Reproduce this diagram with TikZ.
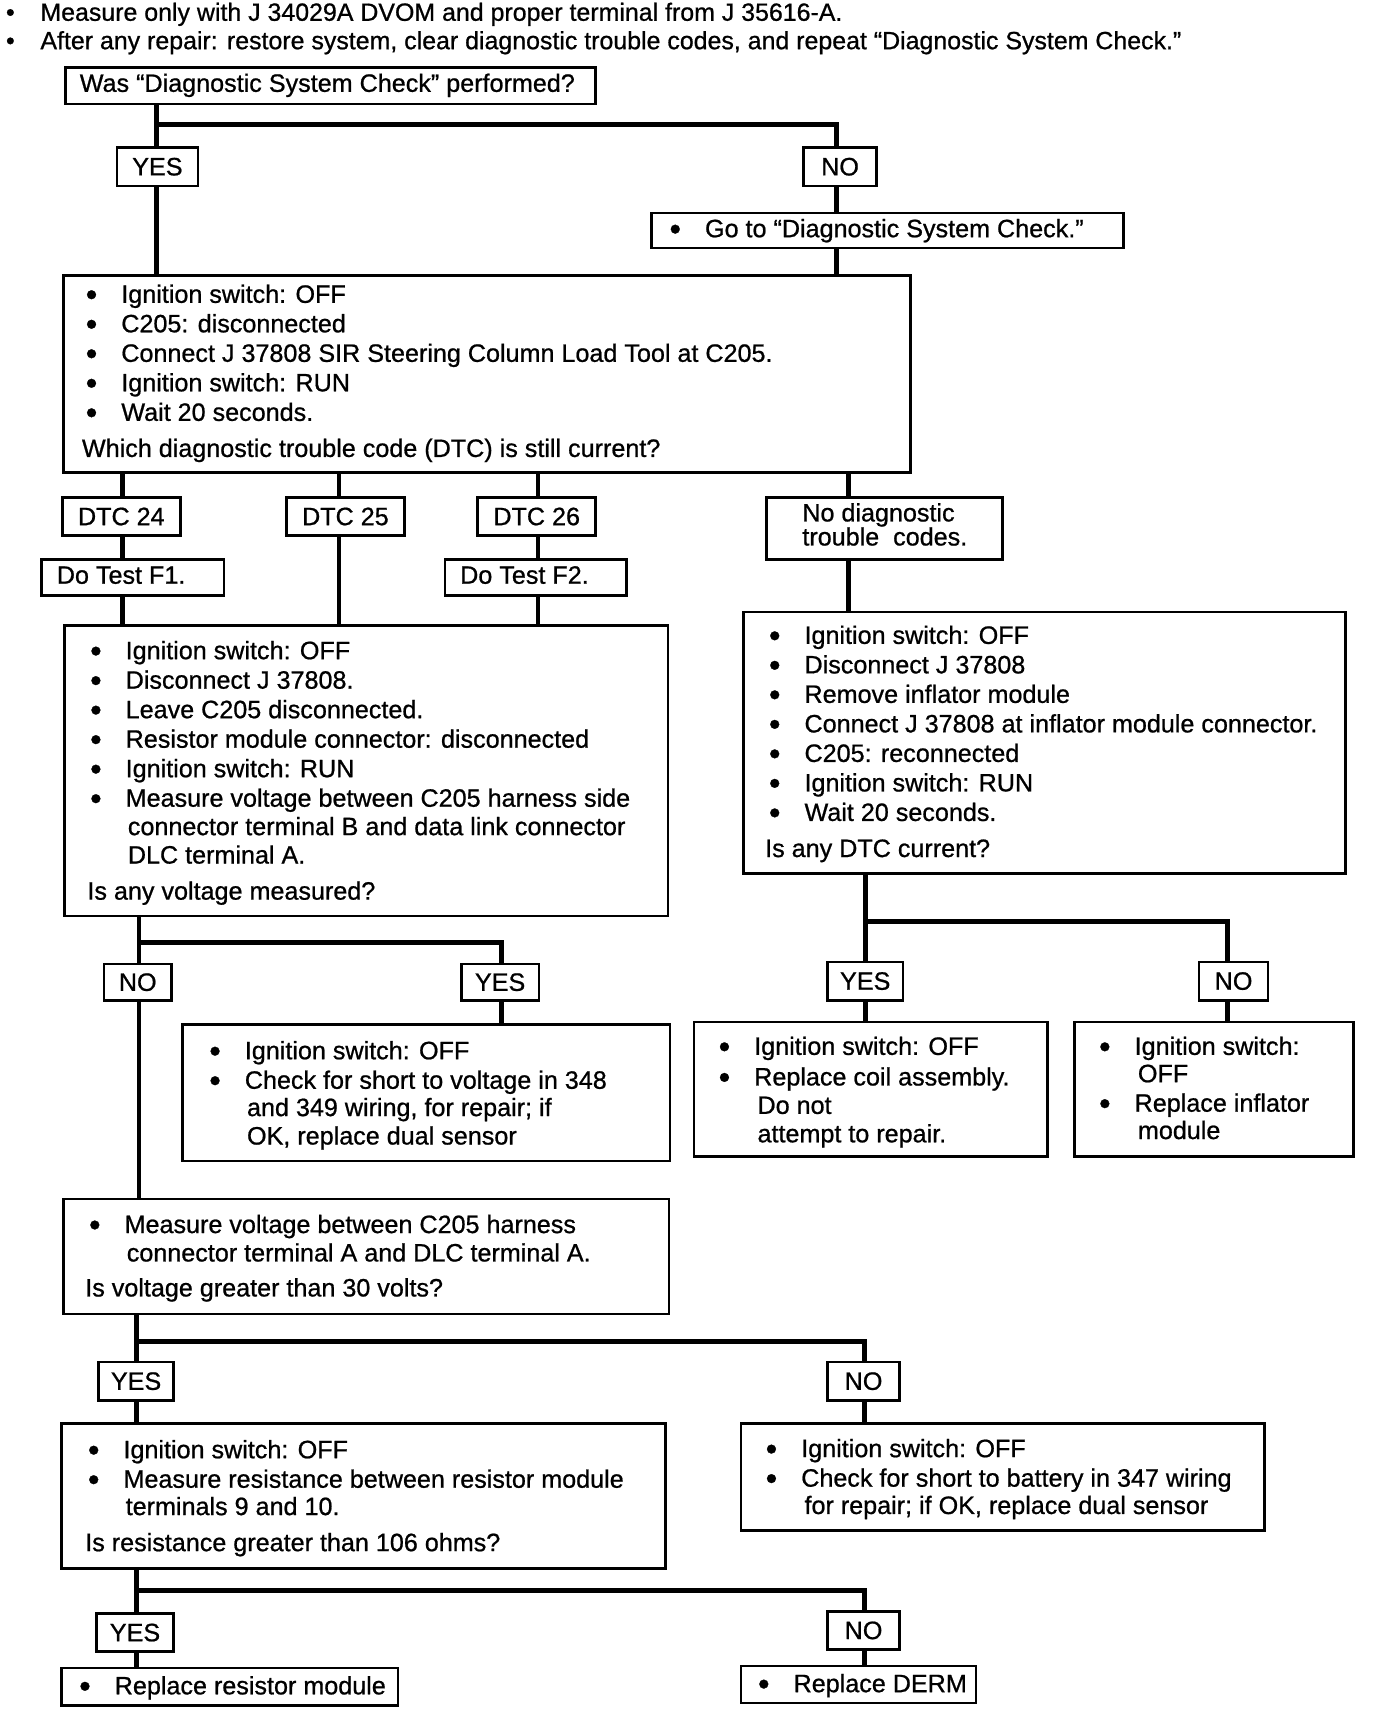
\documentclass[tikz,border=0pt]{standalone}
\usepackage{fontspec}
\setmainfont{Liberation Sans}[FakeBold=0.8]
\tikzset{
  box/.style={draw, line width=1.2pt, inner sep=0pt, outer sep=0pt, anchor=north west, font=\fontsize{11.5}{13}\selectfont},
  tx/.style={anchor=base west, inner sep=0pt, outer sep=0pt, font=\fontsize{11.5}{13}\selectfont},
  hx/.style={anchor=base west, inner sep=0pt, outer sep=0pt, font=\fontsize{11.4}{12}\selectfont},
  wire/.style={line width=2.1pt},
}
\newcommand\bx[6]{\node[box, minimum width={(#4-#2)*0.5pt}, minimum height={(#5-#3)*0.5pt}] (#1) at (#2,#3) {#6};}
\newcommand\tline[4]{\node[tx] (#1) at (#2,#3+7) {#4};}
\newcommand\mybul{\makebox[16.25pt][l]{\smash{\raisebox{-1.3pt}{\fontsize{15}{15}\selectfont\textbullet}}}}
\newcommand\hbul{\makebox[16.25pt][l]{\hspace{0.5pt}\textbullet}}
\newcommand\bline[4]{\node[tx] (#1) at (#2-4.5,#3+7) {\mybul#4};}
\newcommand\headline[4]{\node[hx] (#1) at (#2-4.5,#3+7) {\hbul#4};}
\begin{document}
\begin{tikzpicture}[x=0.5pt,y=-0.5pt]
\useasboundingbox (0,0) rectangle (1259,1568);
% header
\headline{h1}{9}{12}{Measure only with J 34029A DVOM and proper terminal from J 35616-A.}
\headline{h2}{9}{38}{After any repair: restore system, clear diagnostic trouble codes, and repeat “Diagnostic System Check.”}
% boxes
\bx{q0}{60}{62}{545}{95}{}
\tline{q0t}{73}{77}{Was “Diagnostic System Check” performed?}
\bx{yes0}{107}{135}{181}{170}{YES}
\bx{no0}{735}{135}{802}{170}{NO}
\bx{goto}{596}{195}{1028}{227}{}
\bline{gotot}{617}{210}{Go to “Diagnostic System Check.”}
\bx{b1}{58}{252}{833}{432}{}
\bline{b1a}{83}{270}{Ignition switch: OFF}
\bline{b1b}{83}{297}{C205: disconnected}
\bline{b1c}{83}{324}{Connect J 37808 SIR Steering Column Load Tool at C205.}
\bline{b1d}{83}{351}{Ignition switch: RUN}
\bline{b1e}{83}{378}{Wait 20 seconds.}
\tline{b1q}{75}{411}{Which diagnostic trouble code (DTC) is still current?}
\bx{d24}{57}{455}{165}{490}{DTC 24}
\bx{d25}{262}{455}{370}{490}{DTC 25}
\bx{d26}{437}{455}{545}{490}{DTC 26}
\bx{nod}{701}{455}{917}{512}{}
\tline{noda}{734}{470}{No diagnostic}
\tline{nodb}{734}{492}{trouble~ codes.}
\bx{f1}{38}{512}{205}{545}{}
\tline{f1t}{52}{527}{Do Test F1.}
\bx{f2}{407}{512}{573}{545}{}
\tline{f2t}{421}{527}{Do Test F2.}
\bx{b2}{59}{572}{611}{838}{}
\bline{b2a}{87}{596}{Ignition switch: OFF}
\bline{b2b}{87}{623}{Disconnect J 37808.}
\bline{b2c}{87}{650}{Leave C205 disconnected.}
\bline{b2d}{87}{677}{Resistor module connector: disconnected}
\bline{b2e}{87}{704}{Ignition switch: RUN}
\bline{b2f}{87}{731}{Measure voltage between C205 harness side}
\tline{b2g}{117}{757}{connector terminal B and data link connector}
\tline{b2h}{117}{783}{DLC terminal A.}
\tline{b2q}{80}{816}{Is any voltage measured?}
\bx{b2r}{680}{560}{1231}{799}{}
\bline{b2ra}{708}{582}{Ignition switch: OFF}
\bline{b2rb}{708}{609}{Disconnect J 37808}
\bline{b2rc}{708}{636}{Remove inflator module}
\bline{b2rd}{708}{663}{Connect J 37808 at inflator module connector.}
\bline{b2re}{708}{690}{C205: reconnected}
\bline{b2rf}{708}{717}{Ignition switch: RUN}
\bline{b2rg}{708}{744}{Wait 20 seconds.}
\tline{b2rq}{700}{777}{Is any DTC current?}
\bx{yr}{757}{880}{826}{915}{YES}
\bx{nr}{1097}{880}{1160}{915}{NO}
\bx{ryb}{635}{935}{958}{1058}{}
\bline{ryba}{662}{958}{Ignition switch: OFF}
\bline{rybb}{662}{986}{Replace coil assembly.}
\tline{rybc}{693}{1012}{Do not}
\tline{rybd}{693}{1038}{attempt to repair.}
\bx{rnb}{983}{935}{1238}{1058}{}
\bline{rnba}{1010}{958}{Ignition switch:}
\tline{rnbb}{1041}{983}{OFF}
\bline{rnbc}{1010}{1010}{Replace inflator}
\tline{rnbd}{1041}{1035}{module}
\bx{nl}{95}{882}{157}{915}{NO}
\bx{yl}{422}{882}{493}{915}{YES}
\bx{lyb}{167}{937}{613}{1062}{}
\bline{lyba}{196}{962}{Ignition switch: OFF}
\bline{lybb}{196}{989}{Check for short to voltage in 348}
\tline{lybc}{226}{1014}{and 349 wiring, for repair; if}
\tline{lybd}{226}{1040}{OK, replace dual sensor}
\bx{b3}{58}{1097}{612}{1202}{}
\bline{b3a}{86}{1121}{Measure voltage between C205 harness}
\tline{b3b}{116}{1147}{connector terminal A and DLC terminal A.}
\tline{b3q}{78}{1179}{Is voltage greater than 30 volts?}
\bx{y3}{90}{1246}{159}{1281}{YES}
\bx{n3}{757}{1246}{823}{1281}{NO}
\bx{b4}{56}{1302}{609}{1435}{}
\bline{b4a}{85}{1327}{Ignition switch: OFF}
\bline{b4b}{85}{1354}{Measure resistance between resistor module}
\tline{b4c}{115}{1379}{terminals 9 and 10.}
\tline{b4q}{78}{1412}{Is resistance greater than 106 ohms?}
\bx{n3b}{678}{1302}{1157}{1400}{}
\bline{n3ba}{705}{1326}{Ignition switch: OFF}
\bline{n3bb}{705}{1353}{Check for short to battery in 347 wiring}
\tline{n3bc}{736}{1378}{for repair; if OK, replace dual sensor}
\bx{y4}{88}{1476}{159}{1511}{YES}
\bx{n4}{757}{1474}{823}{1509}{NO}
\bx{rr}{56}{1526}{364}{1560}{}
\bline{rrt}{77}{1543}{Replace resistor module}
\bx{rd}{678}{1524}{893}{1558}{}
\bline{rdt}{698}{1541}{Replace DERM}
% junction coordinates
\coordinate (x0) at (143,0);
\coordinate (x1) at (765,0);
\coordinate (j0) at (143,114);
\coordinate (xd24) at (112,0);
\coordinate (xd25) at (310,0);
\coordinate (xd26) at (492,0);
\coordinate (xnd) at (776,0);
\coordinate (jr) at (792,843);
\coordinate (xnr) at (1123,0);
\coordinate (jl) at (127,862);
\coordinate (xyl) at (459,0);
\coordinate (j3) at (125,1227);
\coordinate (xn3) at (791,0);
\coordinate (j4) at (125,1455);
% connectors
\draw[wire] (q0.south -| x0) -- (yes0.north -| x0);
\draw[wire] (j0) -| (no0.north -| x1);
\draw[wire] (yes0.south -| x0) -- (b1.north -| x0);
\draw[wire] (no0.south -| x1) -- (goto.north -| x1);
\draw[wire] (goto.south -| x1) -- (b1.north -| x1);
\draw[wire] (b1.south -| xd24) -- (d24.north -| xd24);
\draw[wire] (d24.south -| xd24) -- (f1.north -| xd24);
\draw[wire] (f1.south -| xd24) -- (b2.north -| xd24);
\draw[wire] (b1.south -| xd25) -- (d25.north -| xd25);
\draw[wire] (d25.south -| xd25) -- (b2.north -| xd25);
\draw[wire] (b1.south -| xd26) -- (d26.north -| xd26);
\draw[wire] (d26.south -| xd26) -- (f2.north -| xd26);
\draw[wire] (f2.south -| xd26) -- (b2.north -| xd26);
\draw[wire] (b1.south -| xnd) -- (nod.north -| xnd);
\draw[wire] (nod.south -| xnd) -- (b2r.north -| xnd);
\draw[wire] (b2r.south -| jr) -- (yr.north -| jr);
\draw[wire] (jr) -| (nr.north -| xnr);
\draw[wire] (yr.south -| jr) -- (ryb.north -| jr);
\draw[wire] (nr.south -| xnr) -- (rnb.north -| xnr);
\draw[wire] (b2.south -| jl) -- (nl.north -| jl);
\draw[wire] (jl) -| (yl.north -| xyl);
\draw[wire] (yl.south -| xyl) -- (lyb.north -| xyl);
\draw[wire] (nl.south -| jl) -- (b3.north -| jl);
\draw[wire] (b3.south -| j3) -- (y3.north -| j3);
\draw[wire] (j3) -| (n3.north -| xn3);
\draw[wire] (y3.south -| j3) -- (b4.north -| j3);
\draw[wire] (n3.south -| xn3) -- (n3b.north -| xn3);
\draw[wire] (b4.south -| j4) -- (y4.north -| j4);
\draw[wire] (j4) -| (n4.north -| xn3);
\draw[wire] (y4.south -| j4) -- (rr.north -| j4);
\draw[wire] (n4.south -| xn3) -- (rd.north -| xn3);
\end{tikzpicture}
\end{document}
